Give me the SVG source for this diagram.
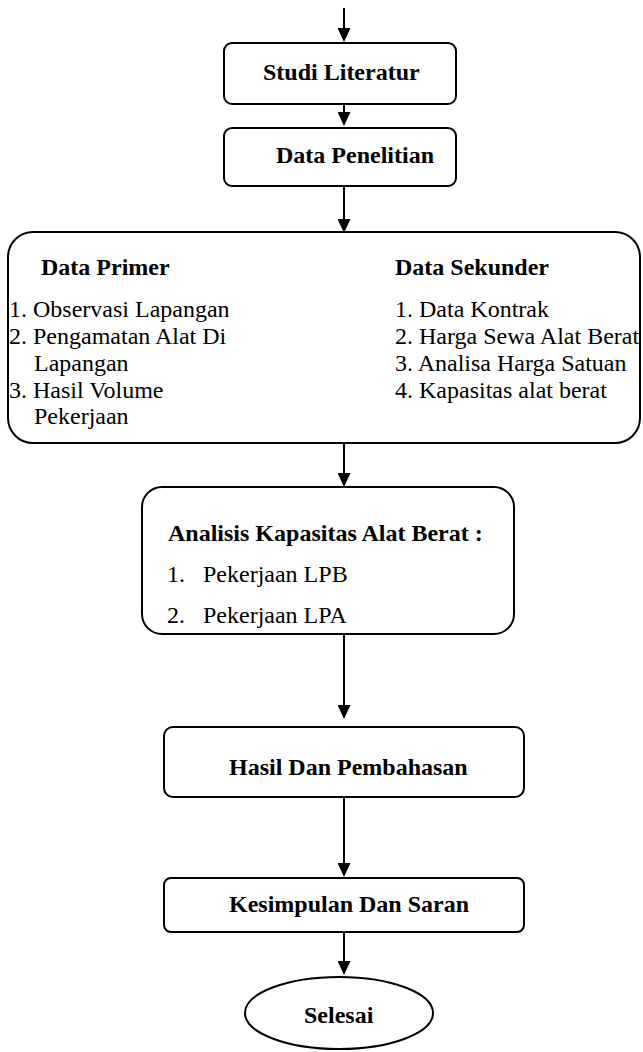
<svg xmlns="http://www.w3.org/2000/svg" width="643" height="1052" viewBox="0 0 643 1052">
  <style>
    .box { fill: #fff; stroke: #000; stroke-width: 2; }
    .link { fill: none; stroke: #000; stroke-width: 2; }
    text { font-family: 'Liberation Serif', 'Times New Roman', Times, serif; font-size: 24px; fill: #000; }
    .b { font-weight: bold; }
  </style>
  <defs>
    <marker id="arrow" viewBox="0 0 14 13" refX="10" refY="6.5" markerWidth="14" markerHeight="13" markerUnits="userSpaceOnUse" orient="auto">
      <path d="M0,0 L14,6.5 L0,13 z" fill="#000"/>
    </marker>
  </defs>
  <rect width="643" height="1052" fill="#fff"/>

  <!-- connectors -->
  <g id="connectors">
    <line class="link" x1="344" y1="8" x2="344" y2="38" marker-end="url(#arrow)"/>
    <line class="link" x1="344" y1="104" x2="344" y2="122" marker-end="url(#arrow)"/>
    <line class="link" x1="344" y1="186" x2="344" y2="229" marker-end="url(#arrow)"/>
    <line class="link" x1="344" y1="443" x2="344" y2="483" marker-end="url(#arrow)"/>
    <line class="link" x1="344" y1="634" x2="344" y2="715" marker-end="url(#arrow)"/>
    <line class="link" x1="344" y1="797" x2="344" y2="873" marker-end="url(#arrow)"/>
    <line class="link" x1="344" y1="932" x2="344" y2="971" marker-end="url(#arrow)"/>
  </g>

  <g font-family="Liberation Serif, Times New Roman, serif" font-size="24">
    <g id="studi-literatur">
      <rect class="box" x="224" y="43" width="232" height="61" rx="8"/>
      <text class="b" x="263" y="80">Studi Literatur</text>
    </g>

    <g id="data-penelitian">
      <rect class="box" x="224" y="128" width="232" height="58" rx="8"/>
      <text class="b" x="276" y="163">Data Penelitian</text>
    </g>

    <g id="data">
      <rect class="box" x="8" y="232" width="632" height="211" rx="25"/>
      <text class="b" x="41" y="275">Data Primer</text>
      <text x="9" y="317">1. Observasi Lapangan</text>
      <text x="9" y="344">2. Pengamatan Alat Di</text>
      <text x="34" y="371">Lapangan</text>
      <text x="9" y="398">3. Hasil Volume</text>
      <text x="34" y="424">Pekerjaan</text>
      <text class="b" x="395" y="275">Data Sekunder</text>
      <text x="395" y="317">1. Data Kontrak</text>
      <text x="395" y="344">2. Harga Sewa Alat Berat</text>
      <text x="395" y="371">3. Analisa Harga Satuan</text>
      <text x="395" y="398">4. Kapasitas alat berat</text>
    </g>

    <g id="analisis">
      <rect class="box" x="142" y="487" width="372" height="147" rx="20"/>
      <text class="b" x="168" y="541">Analisis Kapasitas Alat Berat :</text>
      <text x="167" y="582">1.</text>
      <text x="203" y="582">Pekerjaan LPB</text>
      <text x="167" y="623">2.</text>
      <text x="203" y="623">Pekerjaan LPA</text>
    </g>

    <g id="hasil">
      <rect class="box" x="164" y="727" width="360" height="70" rx="9"/>
      <text class="b" x="229" y="775">Hasil Dan Pembahasan</text>
    </g>

    <g id="kesimpulan">
      <rect class="box" x="164" y="878" width="360" height="54" rx="7"/>
      <text class="b" x="229" y="912">Kesimpulan Dan Saran</text>
    </g>

    <g id="selesai">
      <ellipse class="box" cx="339" cy="1013" rx="94" ry="36"/>
      <text class="b" x="304" y="1023">Selesai</text>
    </g>
  </g>
</svg>
